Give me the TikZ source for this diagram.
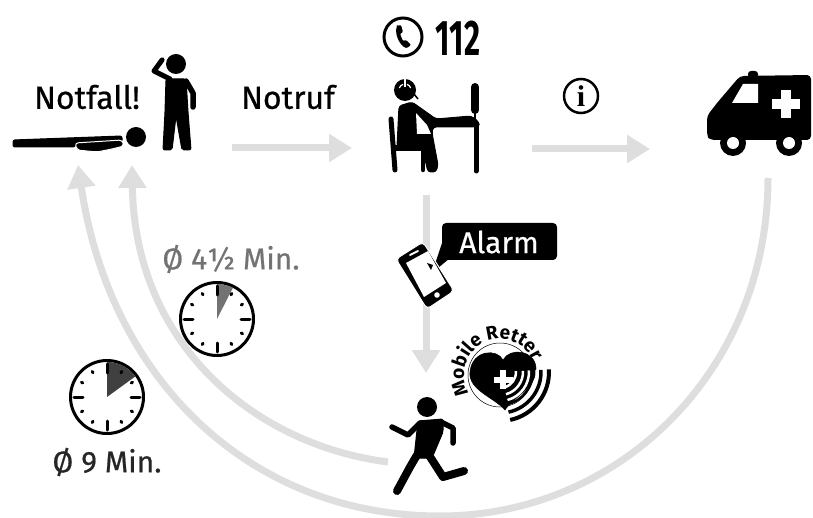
\documentclass[tikz,border=0pt]{standalone}
\usepackage{fontspec}
\usepackage{graphicx}
\setmainfont{Fira Sans}
\newfontfamily\labfont[FakeBold=0.6]{Fira Sans}
\usetikzlibrary{arrows.meta,decorations.text}
\definecolor{flowgray}{HTML}{DEDEDE}
\tikzset{
 flow/.style={draw=flowgray,line width=7pt,-{Triangle[width=27pt,length=23pt]}},
 label/.style={inner sep=0pt,font=\labfont\fontsize{32}{32}\selectfont},
 ink/.style={fill=black,draw=black,line join=round},
 limb/.style={draw=black,line cap=round,line join=round},
 clockface/.style={draw=black,fill=white,line width=3pt},
 tick/.style={draw=black,line cap=round,line width=3pt},
}
\newcommand{\clockdial}[1]{%
 \foreach \a in {0,90,180,270}{\draw[tick] (#1)++(\a:24) -- ++(\a:9);}
 \foreach \a in {30,60,120,150,210,240,300,330}{\draw[tick] (#1)++(\a:28) -- ++(\a:1.5);}
}
\begin{document}
\begin{tikzpicture}[x=1pt,y=-1pt]
\useasboundingbox (0,0) rectangle (813,518);
% anchor coordinates
\coordinate (ambBottom) at (768,178);
\coordinate (outerMid) at (440,516);
\coordinate (outerTip) at (78,165);
\coordinate (runnerSide) at (388,462);
\coordinate (innerTip) at (132,165);
\coordinate (callerRight) at (232,148);
\coordinate (operatorLeft) at (352,148);
\coordinate (operatorRight) at (532,149);
\coordinate (ambLeft) at (650,149);
\coordinate (operatorBottom) at (426,195);
\coordinate (phoneTop) at (426,250);
\coordinate (phoneBottom) at (426,300);
\coordinate (runnerTop) at (426,373);
% flows
\draw[flow,arrows=-] (ambBottom) .. controls (768,370) and (620,516) .. (outerMid);
\draw[flow] (outerMid) .. controls (250,516) and (110,380) .. (outerTip);
\draw[flow] (runnerSide) .. controls (255,445) and (135,345) .. (innerTip);
\draw[flow] (callerRight) -- (operatorLeft);
\draw[flow] (operatorRight) -- (ambLeft);
\draw[flow,arrows=-] (operatorBottom) -- (phoneTop);
\draw[flow] (phoneBottom) -- (runnerTop);
% labels
\node[label] (notfall) at (87,97) {Notfall!};
\node[label] (notruf) at (288,97) {Notruf};
\node (num) at (458,38) [inner sep=0pt,font=\fontsize{50}{50}\bfseries\selectfont] {\scalebox{0.62}[1]{112}};
% standing person
\fill (176,64) circle (10);
\fill[ink,line width=1pt,rounded corners=2pt] (166,79) -- (186,79) -- (188,112) -- (191,150) -- (182,150) -- (176,116) -- (172,150) -- (163,150) -- (165,112) -- cycle;
\draw[limb,line width=5.5pt] (186,81) -- (193,93) -- (193,107);
\draw[limb,line width=5pt] (170,79) -- (154,71) -- (162,60);
\draw[limb,line width=3pt] (160,64) -- (163,59);
% lying person
\fill (136,137) circle (10);
\fill[ink,line width=1pt,rounded corners=2pt] (13,140) -- (122,136) -- (122,142) -- (75,144) -- (75,147) -- (13,147) -- cycle;
\filldraw[line width=1pt,draw=white,fill=black,rounded corners=3pt] (75,143) -- (122,140) -- (124,146) -- (112,149) -- (97,152) -- (77,150) -- cycle;
% phone icon circle
\draw[line width=3pt] (403,37) circle (19);
\fill[rounded corners=1pt] (397,26) -- (401,25) -- (403,32) -- (400,34) -- (403,41) -- (406,40) -- (411,45) -- (407,48) .. controls (401,47) and (394,35) .. (397,26) -- cycle;
% operator
\fill (405,90) circle (11);
\draw[white,line width=1.5pt] (405,79) -- (405,87);
\draw[white,line width=1.2pt] (405,90) ++(-160:6) arc (-160:-110:6);
\draw[white,line width=1.2pt] (405,90) ++(-70:6) arc (-70:-20:6);
\draw[line width=1.5pt] (414,94) -- (418,99);
\fill[ink,line width=1pt,rounded corners=3pt] (399,106) -- (412,102) -- (436,119) -- (471,116) -- (479,122) -- (479,127) -- (433,127) -- (432,133) -- (438,165) -- (436,172) -- (428,172) -- (422,147) -- (397,147) -- cycle;
\fill[white] (416,113) -- (427,125) -- (431,134) -- (417,134) -- cycle;
\draw[limb,line width=5pt] (391,119) -- (395,170);
\draw[limb,line width=6pt] (395,148) -- (423,148);
\draw[limb,line width=4.5pt] (423,148) -- (423,170);
\draw[limb,line width=5pt] (476,124) -- (476,171);
\draw[limb,line width=8pt] (475,87) -- (475,110);
\draw[line width=2pt] (475,112) -- (475,120);
% info
\draw[line width=2.5pt] (581,96) circle (17);
\node (info) at (581,96) [inner sep=0pt,font=\fontspec{Liberation Serif}\fontsize{30}{30}\bfseries\selectfont] {i};
% ambulance
\fill[rounded corners=3pt] (748,78) rectangle (758,71);
\fill[rounded corners=4pt] (740,76) -- (811,75) -- (811,140) -- (710,140) -- (707,136) -- (707,116) -- (717,103) -- cycle;
\fill[white] (732,103) -- (743,84) -- (758,84) -- (758,103) -- cycle;
\fill[white] (781,90) rectangle (791,118);
\fill[white] (772,99) rectangle (800,109);
\foreach \c in {733,789}{\fill (\c,143) circle (13);}
\foreach \c in {733,789}{\fill[white] (\c,143) circle (6);}
% phone and bubble
\fill[rounded corners=4pt] (442,223) rectangle (557,260);
\fill (443,240) -- (432,273) -- (450,258) -- cycle;
\node (alarm) at (499,242) [inner sep=0pt,text=white,font=\labfont\fontsize{30}{30}\selectfont] {Alarm};
\filldraw[draw=white,line width=1pt,fill=black,rounded corners=4pt] (423,242) -- (396,259) -- (427,309) -- (454,291) -- cycle;
\fill[white] (406,263) -- (428,251) -- (446,283) -- (424,297) -- cycle;
\draw[white,line width=1.8pt,line cap=round] (410,255) -- (418,251);
\fill[white] (437,295) circle (2.8);
\fill (427,263) -- (431,270) -- (433,265) -- cycle;
% clocks
\node[circle,clockface,minimum size=73pt,inner sep=0pt] (clockA) at (217,319) {};
\fill[black!55] (217,319) -- (217,284) arc (-90:-63:35) -- cycle;
\clockdial{clockA.center}
\node[circle,clockface,minimum size=73pt,inner sep=0pt] (clockB) at (107,397) {};
\fill[black!75] (107,397) -- (107,362) arc (-90:-36:35) -- cycle;
\clockdial{clockB.center}
\node[label,text=black!55,font=\labfont\fontsize{30}{30}\selectfont] (tA) at (231,259) {Ø 4½ Min.};
\node[label,text=black!85,font=\labfont\fontsize{30}{30}\selectfont] (tB) at (107,462) {Ø 9 Min.};
% logo
\draw[black,line width=.5pt] (500,375) circle (32);
\fill[ink,line width=.5pt] (505,410) .. controls (495,398) and (468,390) .. (470,372) .. controls (472,350) and (497,348) .. (503,360) .. controls (510,347) and (535,350) .. (536,368) .. controls (537,388) and (512,398) .. (505,410) -- cycle;
\fill[white] (500,370) rectangle (506,389);
\fill[white] (494,376.5) rectangle (513,382.5);
\foreach \r/\w in {16/2.5,23/2.5,29/2.5,37/3}{\draw[white,line width=\w pt] (500,372) ++(75:\r) arc (75:-3:\r);}
\foreach \r/\w in {33/2.5,41/3.5,49/4}{\draw[line width=\w pt] (500,372) ++(78:\r) arc (78:-3:\r);}
\path[decorate,decoration={text along path,text align=fit to path,text={|\bfseries\fontsize{19}{19}\selectfont|Mobile Retter}}] (500,375) ++(-211:36) arc[start angle=-211,end angle=-25,radius=36];
% runner
\fill (427,407) circle (10);
\fill[ink,line width=1pt,rounded corners=2pt] (418,421) -- (443,419) -- (443,432) -- (432,458) -- (414,458) -- cycle;
\draw[limb,line width=5.5pt] (392,427) -- (408,435) -- (420,423);
\draw[limb,line width=5.5pt] (441,422) -- (453,428) -- (453,443);
\draw[limb,line width=8pt,line join=miter] (417,455) -- (410,467) -- (397,491);
\draw[limb,line width=8pt] (427,452) -- (443,477) -- (464,471);
\end{tikzpicture}
\end{document}
